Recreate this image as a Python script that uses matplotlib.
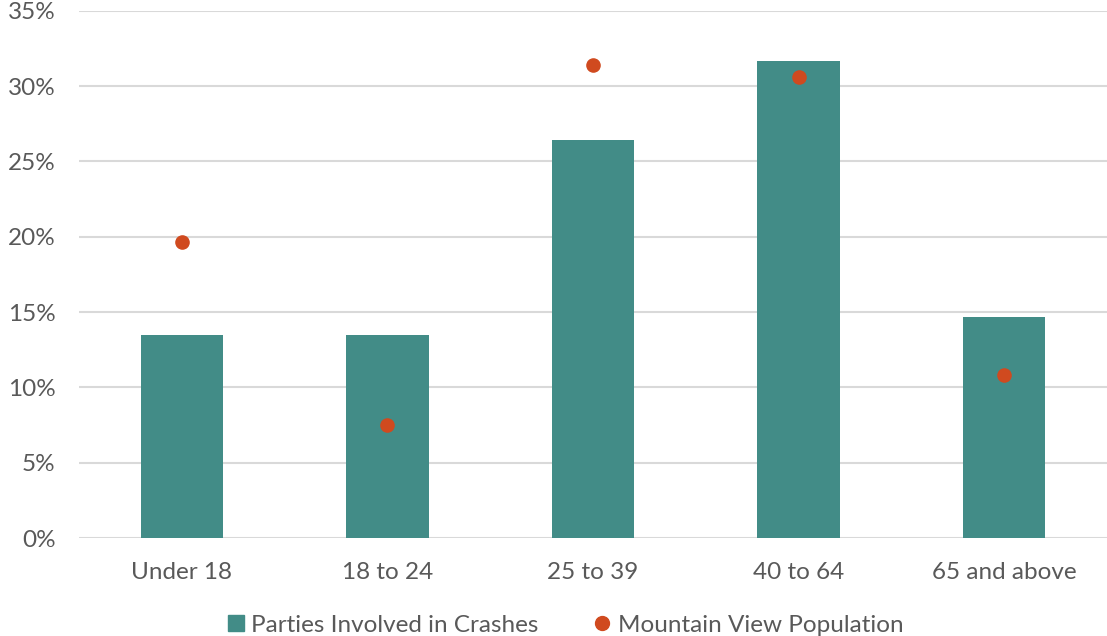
import numpy as np
import matplotlib.pyplot as plt
from matplotlib.ticker import FuncFormatter
from matplotlib.lines import Line2D

plt.rcParams['font.family'] = ['Lato', 'DejaVu Sans']

categories = ["Under 18", "18 to 24", "25 to 39", "40 to 64", "65 and above"]
crashes = [13.5, 13.5, 26.4, 31.7, 14.7]
population = [19.65, 7.5, 31.4, 30.6, 10.85]

TEAL = '#428C87'
ORANGE = '#D04A1F'
GREY = '#595959'

fig = plt.figure(figsize=(11.07, 6.36), dpi=100)
ax = fig.add_axes([0.0714, 0.154, 0.9286, 0.829])

x = np.arange(len(categories))
ax.bar(x, crashes, width=0.4, color=TEAL, zorder=2)
ax.scatter(x, population, s=90, color=ORANGE, zorder=3)

ax.set_xlim(-0.5, len(categories) - 0.5)
ax.set_ylim(0, 35)
ax.set_yticks(np.arange(0, 36, 5))
ax.yaxis.set_major_formatter(FuncFormatter(lambda v, p: f"{v:.0f}%"))
ax.set_xticks(x)
ax.set_xticklabels(categories)
ax.grid(axis='y', color='#D9D9D9', linewidth=1.5, zorder=0)
ax.tick_params(length=0, labelsize=17.5, colors=GREY)
ax.tick_params(axis='y', pad=17)
ax.tick_params(axis='x', pad=17)
for s in ax.spines.values():
    s.set_visible(False)

handles = [
    Line2D([], [], marker='s', linestyle='none', markersize=11, color=TEAL),
    Line2D([], [], marker='o', linestyle='none', markersize=10, color=ORANGE),
]
fig.legend(handles, ["Parties Involved in Crashes", "Mountain View Population"],
           loc='center', bbox_to_anchor=(0.51, 0.017), ncol=2, frameon=False,
           fontsize=17.5, labelcolor=GREY, handlelength=0.8, handletextpad=0.25,
           columnspacing=2.2)

fig.savefig('out.png', dpi=100)
